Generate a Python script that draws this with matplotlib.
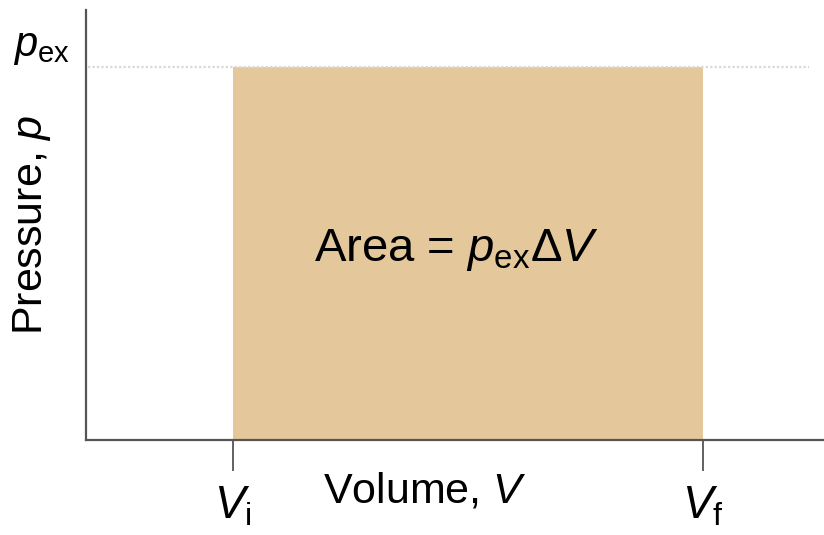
import matplotlib
matplotlib.use("Agg")
import matplotlib.pyplot as plt

# values (arbitrary units)
V_i = 1.0
V_f = 3.0
p_ex = 1.0
x_ticks = [V_i, V_f]
x_tick_labels = [r'$V_\mathrm{i}$', r'$V_\mathrm{f}$']
y_ticks = [p_ex]
y_tick_labels = [r'$p_\mathrm{ex}$']

plt.rcParams['font.family'] = 'Liberation Sans'
plt.rcParams['mathtext.fontset'] = 'custom'
plt.rcParams['mathtext.rm'] = 'Liberation Sans'
plt.rcParams['mathtext.it'] = 'Liberation Sans:italic'

fig = plt.figure(figsize=(8.24, 5.35), dpi=100)
ax = fig.add_axes([86 / 824, 95 / 535, 738 / 824, 430 / 535])

# shaded work area
ax.fill_between([V_i, V_f], 0, p_ex, color='#E4C89C', linewidth=0)

# dotted external pressure line
ax.axhline(p_ex, xmin=0.003, xmax=0.98, color='#d8d8d8', linestyle=(0, (1, 1)), linewidth=1.6)

ax.set_xlim(0.374, 3.515)
ax.set_ylim(0, 1.153)

for s in ['top', 'right']:
    ax.spines[s].set_visible(False)
for s in ['left', 'bottom']:
    ax.spines[s].set_color('#555555')
    ax.spines[s].set_linewidth(1.6)

ax.set_xticks(x_ticks)
ax.set_xticklabels(x_tick_labels, fontsize=33)
ax.tick_params(axis='x', length=22, width=1.3, color='#555555', pad=10)
ax.set_yticks(y_ticks)
ax.set_yticklabels(y_tick_labels, fontsize=30)
ax.tick_params(axis='y', length=0, pad=12)
for lab in ax.get_yticklabels():
    lab.set_verticalalignment('bottom')

ax.set_xlabel(r'Volume, $V$', fontsize=31)
ax.xaxis.set_label_coords(0.459, -0.12)
ax.xaxis.label.set_verticalalignment('center')
ax.set_ylabel(r'Pressure, $p$', fontsize=31)
ax.yaxis.set_label_coords(-0.073, 0.5)
ax.yaxis.label.set_verticalalignment('center')

ax.text((V_i + V_f) / 2 - 0.05, p_ex / 2 + 0.01, r'Area = $p_\mathrm{ex}\Delta V$',
        fontsize=34, ha='center', va='center')

fig.savefig('out.png', dpi=100)
